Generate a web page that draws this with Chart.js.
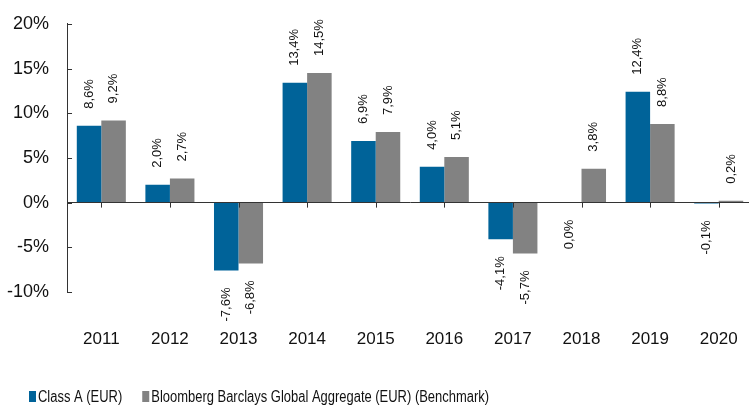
<!DOCTYPE html>
<html>
<head>
<meta charset="utf-8">
<script src="https://cdn.jsdelivr.net/npm/chart.js@4.4.1/dist/chart.umd.min.js"></script>
<style>
    html, body { margin: 0; padding: 0; background: #fff; overflow: hidden; }
    #wrap { width: 753px; height: 405px; }
</style>
</head>
<body>
<div id="wrap"><canvas id="chart"></canvas></div>
<script>
// 年份
const years = ['2011', '2012', '2013', '2014', '2015', '2016', '2017', '2018', '2019', '2020'];
// 基金 Class A (EUR) 年度報酬
const classA = [8.6, 2.0, -7.6, 13.4, 6.9, 4.0, -4.1, 0.0, 12.4, -0.1];
// 基準指數
const benchmark = [9.2, 2.7, -6.8, 14.5, 7.9, 5.1, -5.7, 3.8, 8.8, 0.2];
const yTicks = [-10, -5, 0, 5, 10, 15, 20];

const fontFamily = '"Liberation Sans", Arial, sans-serif';
const axisColor = '#333333';

function pct(v) {
    return v.toFixed(1).replace('.', ',') + '%';
}

// 直式數值標籤
const valueLabels = {
    id: 'valueLabels',
    afterDatasetsDraw(chart) {
        const ctx = chart.ctx;
        ctx.save();
        ctx.font = '13px ' + fontFamily;
        ctx.fillStyle = '#111';
        ctx.textBaseline = 'middle';
        chart.data.datasets.forEach((ds, i) => {
            chart.getDatasetMeta(i).data.forEach((bar, j) => {
                const v = ds.data[j];
                const above = v > 0;
                ctx.save();
                ctx.translate(bar.x, above ? bar.y - 17 : bar.y + 17);
                ctx.rotate(-Math.PI / 2);
                ctx.textAlign = above ? 'left' : 'right';
                ctx.fillText(pct(v), 0, 0);
                ctx.restore();
            });
        });
        ctx.restore();
    }
};

// 向內的刻度線
const innerTicks = {
    id: 'innerTicks',
    afterDatasetsDraw(chart) {
        const ctx = chart.ctx;
        const x = chart.scales.x;
        const y = chart.scales.y;
        const zero = y.getPixelForValue(0);
        ctx.save();
        ctx.strokeStyle = axisColor;
        ctx.lineWidth = 1;
        ctx.beginPath();
        yTicks.forEach(t => {
            const py = Math.round(y.getPixelForValue(t)) + 0.5;
            ctx.moveTo(y.right, py);
            ctx.lineTo(y.right + 5, py);
        });
        years.forEach((_, i) => {
            const px = Math.round(x.getPixelForValue(i)) + 0.5;
            ctx.moveTo(px, zero);
            ctx.lineTo(px, zero + 5);
        });
        ctx.stroke();
        ctx.restore();
    }
};

// 底部圖例（窄字體效果）
const bottomLegend = {
    id: 'bottomLegend',
    afterDraw(chart) {
        const ctx = chart.ctx;
        const squeeze = 0.81;
        let x = 29;
        const baseline = 402;
        ctx.save();
        ctx.font = '16px ' + fontFamily;
        ctx.textBaseline = 'alphabetic';
        ctx.textAlign = 'left';
        chart.data.datasets.forEach(ds => {
            ctx.fillStyle = ds.backgroundColor;
            ctx.fillRect(x, baseline - 11, 7, 11);
            x += 9;
            ctx.save();
            ctx.translate(x, baseline);
            ctx.scale(squeeze, 1);
            ctx.fillStyle = '#111';
            ctx.fillText(ds.label, 0, 0);
            ctx.restore();
            x += ctx.measureText(ds.label).width * squeeze + 20;
        });
        ctx.restore();
    }
};

new Chart(document.getElementById('chart'), {
    type: 'bar',
    data: {
        labels: years,
        datasets: [{
            label: 'Class A (EUR)',
            data: classA,
            backgroundColor: '#006399',
            borderWidth: 0
        }, {
            label: 'Bloomberg Barclays Global Aggregate (EUR) (Benchmark)',
            data: benchmark,
            backgroundColor: '#828282',
            borderWidth: 0
        }]
    },
    options: {
        responsive: true,
        maintainAspectRatio: false,
        animation: false,
        layout: { padding: { top: 0, left: 7, right: 0, bottom: 19 } },
        datasets: {
            bar: { barPercentage: 1, categoryPercentage: 0.715 }
        },
        plugins: {
            legend: { display: false },
            tooltip: { enabled: false }
        },
        scales: {
            x: {
                grid: { display: false, drawTicks: false },
                border: { display: false },
                ticks: {
                    color: '#111',
                    font: { family: fontFamily, size: 17, lineHeight: '86px' },
                    padding: 4
                }
            },
            y: {
                min: -10,
                max: 20,
                afterBuildTicks(scale) {
                    scale.ticks = yTicks.map(v => ({ value: v }));
                },
                // 只保留一次標籤間距
                afterFit(scale) {
                    scale.width -= 18;
                },
                grid: {
                    drawTicks: false,
                    color: c => (c.tick && c.tick.value === 0) ? axisColor : 'rgba(0,0,0,0)'
                },
                border: { display: true, color: axisColor, width: 1 },
                ticks: {
                    color: '#111',
                    font: { family: fontFamily, size: 18, lineHeight: 0.65 },
                    padding: 18,
                    callback: v => v + '%'
                }
            }
        }
    },
    plugins: [valueLabels, innerTicks, bottomLegend]
});
</script>
</body>
</html>
